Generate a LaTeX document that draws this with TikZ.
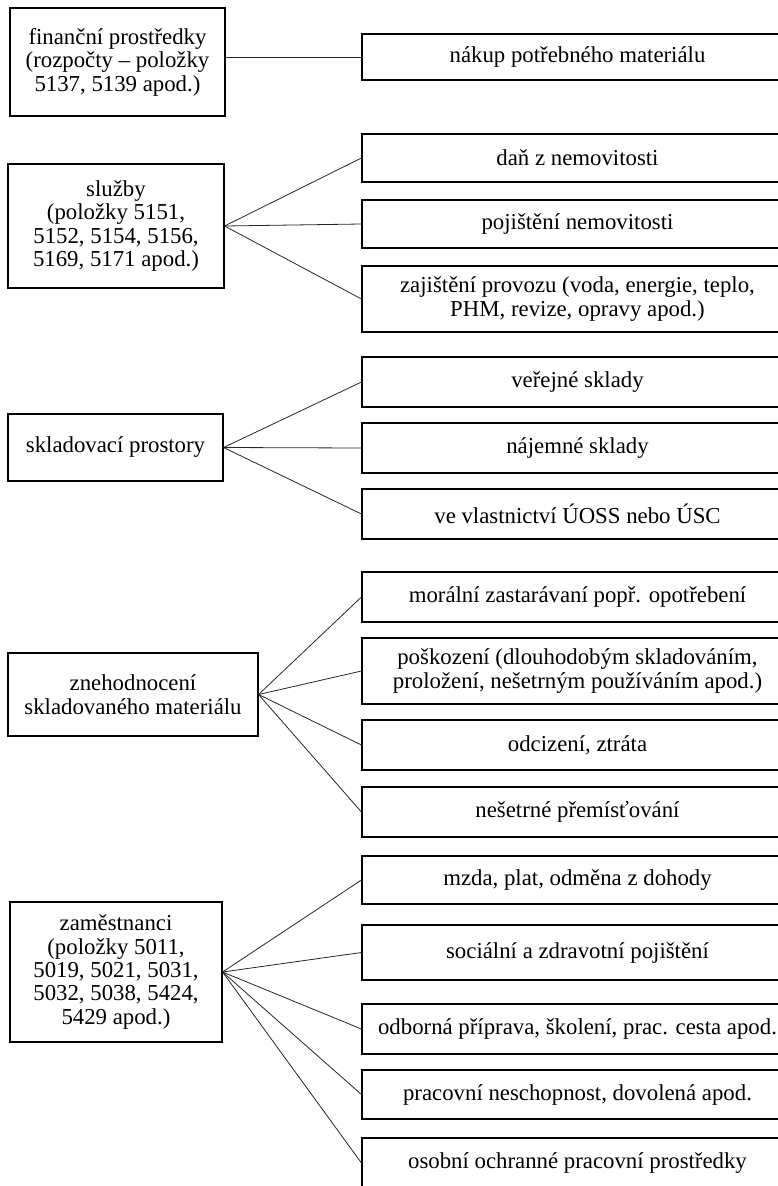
\documentclass[tikz,border=0pt]{standalone}
\usepackage{fontspec}
\setmainfont{Liberation Serif}
\begin{document}
\begin{tikzpicture}[x=1pt,y=-1pt,
    box/.style={draw,line width=1.1pt,align=center,inner sep=0pt,font=\fontsize{22.8}{23.4}\selectfont},
    item/.style={box,minimum width=431pt,minimum height=#1},
    link/.style={line width=0.8pt,black!85}]
\useasboundingbox (0,0) rectangle (778,1186);
% left column
\node[box,minimum width=215pt,minimum height=108pt] at (117.5,62) (fin) {finanční prostředky\\(rozpočty – položky\\5137, 5139 apod.)};
\node[box,minimum width=216pt,minimum height=124pt] at (116,226) (sluzby) {služby\\(položky 5151,\\5152, 5154, 5156,\\5169, 5171 apod.)};
\node[box,minimum width=215pt,minimum height=67pt] at (115.5,447.5) (sklad) {skladovací prostory};
\node[box,minimum width=250pt,minimum height=83pt] at (133,694.5) (zneh) {znehodnocení\\skladovaného materiálu};
\node[box,minimum width=212pt,minimum height=140pt] at (116,972) (zam) {zaměstnanci\\(položky 5011,\\5019, 5021, 5031,\\5032, 5038, 5424,\\5429 apod.)};
% right column
\node[item=46pt] at (577.5,57) (nakup) {nákup potřebného materiálu};
\node[item=48pt] at (577.5,158) (dan) {daň z nemovitosti};
\node[item=48pt] at (577.5,224) (pojist) {pojištění nemovitosti};
\node[item=66pt] at (577.5,299) (provoz) {zajištění provozu (voda, energie, teplo,\\PHM, revize, opravy apod.)};
\node[item=50pt] at (577.5,382) (verejne) {veřejné sklady};
\node[item=50pt] at (577.5,448) (najem) {nájemné sklady};
\node[item=50pt] at (577.5,514) (vlast) {ve vlastnictví ÚOSS nebo ÚSC};
\node[item=50pt] at (577.5,597) (moral) {morální zastarávaní popř. opotřebení};
\node[item=66pt] at (577.5,671) (poskoz) {poškození (dlouhodobým skladováním,\\proložení, nešetrným používáním apod.)};
\node[item=50pt] at (577.5,745) (odciz) {odcizení, ztráta};
\node[item=50pt] at (577.5,812) (presun) {nešetrné přemísťování};
\node[item=48pt] at (577.5,880) (mzda) {mzda, plat, odměna z dohody};
\node[item=55pt] at (577.5,952.5) (social) {sociální a zdravotní pojištění};
\node[item=50pt] at (577.5,1029) (skoleni) {odborná příprava, školení, prac. cesta apod.};
\node[item=49pt] at (577.5,1094.5) (nemoc) {pracovní neschopnost, dovolená apod.};
\node[item=50pt] at (577.5,1163) (oopp) {osobní ochranné pracovní prostředky};
% connectors
\draw[link] (fin.east |- nakup.west) -- (nakup.west);
\draw[link] (sluzby.east) -- (dan.west);
\draw[link] (sluzby.east) -- (pojist.west);
\draw[link] (sluzby.east) -- (provoz.west);
\draw[link] (sklad.east) -- (verejne.west);
\draw[link] (sklad.east) -- (najem.west);
\draw[link] (sklad.east) -- (vlast.west);
\draw[link] (zneh.east) -- (moral.west);
\draw[link] (zneh.east) -- (poskoz.west);
\draw[link] (zneh.east) -- (odciz.west);
\draw[link] (zneh.east) -- (presun.west);
\draw[link] (zam.east) -- (mzda.west);
\draw[link] (zam.east) -- (social.west);
\draw[link] (zam.east) -- (skoleni.west);
\draw[link] (zam.east) -- (nemoc.west);
\draw[link] (zam.east) -- (oopp.west);
\end{tikzpicture}
\end{document}
